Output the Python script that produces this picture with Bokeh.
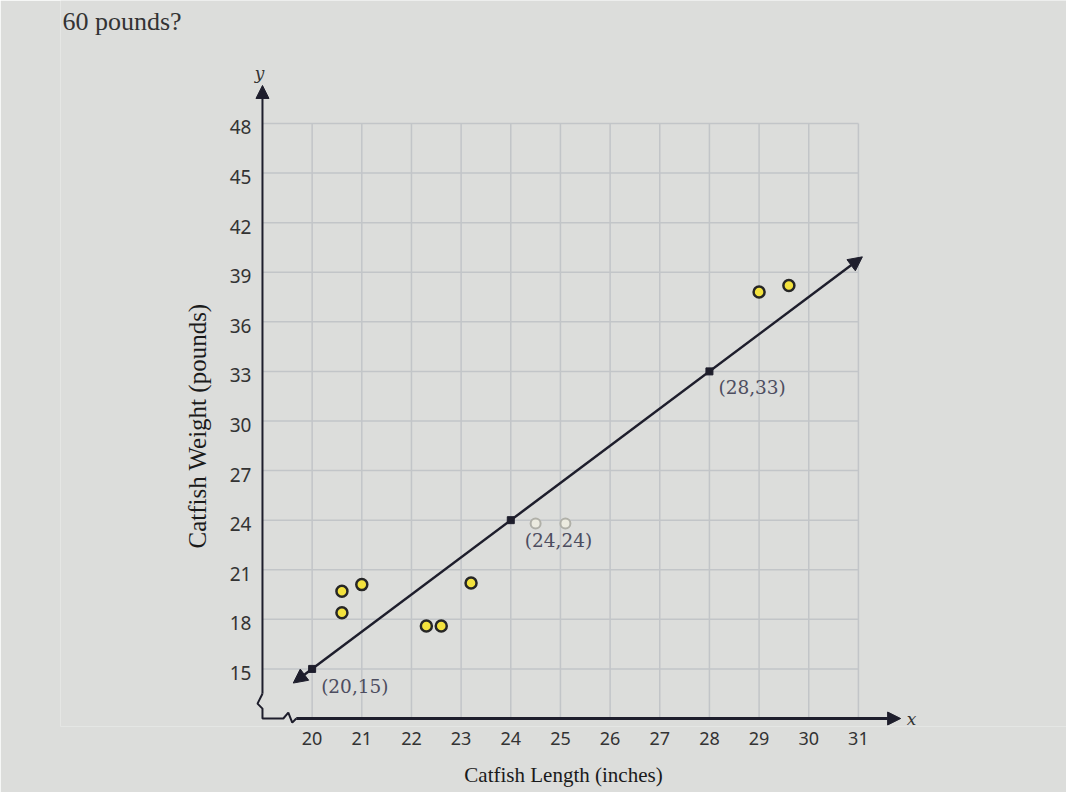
import math
from bokeh.plotting import figure
from bokeh.models import Arrow, NormalHead, FixedTicker, ColumnDataSource, Range1d
from bokeh.core.properties import value
from bokeh.embed import file_html
from bokeh.resources import INLINE

# ---- data ----
x_ticks = list(range(20, 32))
y_ticks = list(range(15, 49, 3))
y_tick_labels = [str(v) for v in y_ticks]
length = [20.6, 21.0, 20.6, 22.3, 22.6, 23.2, 29.0, 29.6]
weight = [19.7, 20.1, 18.4, 17.6, 17.6, 20.2, 37.8, 38.2]
hidden_length = [24.5, 25.1]
hidden_weight = [23.8, 23.8]
line_x = [20, 24, 28]
line_y = [15, 24, 33]
line_labels = ["(20,15)", "(24,24)", "(28,33)"]
line_ends = [19.62, 31.08]
heading = "60 pounds?"
x_title = "Catfish Length (inches)"
y_title = "Catfish Weight (pounds)"

# ---- layout / style ----
x_origin, y_origin = 19, 12
x_axis_end, y_axis_end = 31.85, 50.3
grid_top, grid_right = 48, 31
X_START, X_END = 14.933, 35.19
Y_START, Y_END = 11.516, 55.44

BG = "#dcdddb"
DARK = "#1e1e2c"

p = figure(width=1066, height=792, output_backend="svg", toolbar_location=None,
           x_range=Range1d(X_START, X_END), y_range=Range1d(Y_START, Y_END),
           min_border_left=60, min_border_right=0, min_border_top=0,
           min_border_bottom=66)
p.background_fill_color = BG
p.border_fill_color = BG
p.outline_line_color = None
p.xgrid.grid_line_color = None
p.ygrid.grid_line_color = None
p.yaxis.visible = False

# grid
p.segment(x0=x_ticks, y0=[y_origin] * len(x_ticks), x1=x_ticks, y1=[grid_top] * len(x_ticks),
          line_color="#c2c5c8", line_width=1.5)
p.segment(x0=[x_origin] * len(y_ticks), y0=y_ticks, x1=[grid_right] * len(y_ticks), y1=y_ticks,
          line_color="#c2c5c8", line_width=1.5)

# x axis (library axis)
ax = p.xaxis[0]
ax.axis_line_color = None
ax.major_tick_line_color = None
ax.minor_tick_line_color = None
ax.major_tick_out = 0
ax.major_tick_in = 0
ax.minor_tick_out = 0
ax.ticker = FixedTicker(ticks=x_ticks)
ax.major_label_text_font = "Noto Sans"
ax.major_label_text_font_size = "18px"
ax.major_label_text_color = "#333333"
ax.major_label_standoff = 5
ax.axis_label = x_title
ax.axis_label_text_font = "Liberation Serif"
ax.axis_label_text_font_size = "21px"
ax.axis_label_text_font_style = "normal"
ax.axis_label_text_color = "#1a1a1a"
ax.axis_label_standoff = 15

# y tick labels along the y axis
p.text(x=[x_origin] * len(y_ticks), y=y_ticks, text=y_tick_labels, x_offset=-11, y_offset=4,
       text_align="right", text_baseline="middle", text_font=value("Noto Sans"),
       text_font_size="19px", text_color="#333333")
# y title
p.text(x=[x_origin], y=[29.7], text=[y_title], x_offset=-65, angle=math.pi / 2,
       text_align="center", text_baseline="middle", text_font=value("Liberation Serif"),
       text_font_size="25px", text_color="#1a1a1a")

# axis arrows
p.add_layout(Arrow(end=NormalHead(size=13, fill_color=DARK, line_color=DARK),
                   x_start=x_origin + 0.68, y_start=y_origin, x_end=x_axis_end, y_end=y_origin,
                   line_color=DARK, line_width=3))
p.add_layout(Arrow(end=NormalHead(size=13, fill_color=DARK, line_color=DARK),
                   x_start=x_origin, y_start=y_origin + 1.5, x_end=x_origin, y_end=y_axis_end,
                   line_color=DARK, line_width=2))
# axis breaks
p.line([x_origin, x_origin - 0.1, x_origin, x_origin, x_origin + 0.42, x_origin + 0.52,
        x_origin + 0.6, x_origin + 0.68],
       [y_origin + 1.5, y_origin + 0.9, y_origin + 0.6, y_origin, y_origin, y_origin + 0.35,
        y_origin - 0.25, y_origin],
       line_color=DARK, line_width=2)

# line of fit with two arrowheads
slope = (line_y[2] - line_y[0]) / (line_x[2] - line_x[0])
y_end0 = line_y[0] + slope * (line_ends[0] - line_x[0])
y_end1 = line_y[0] + slope * (line_ends[1] - line_x[0])
p.add_layout(Arrow(start=NormalHead(size=14, fill_color=DARK, line_color=DARK),
                   end=NormalHead(size=14, fill_color=DARK, line_color=DARK),
                   x_start=line_ends[0], y_start=y_end0, x_end=line_ends[1], y_end=y_end1,
                   line_color=DARK, line_width=2.5))
p.scatter(line_x, line_y, marker="square", size=7, color=DARK)

# hidden (faint) points
p.scatter(hidden_length, hidden_weight, size=10, fill_color="#ecebe0",
          line_color="#b0b0a8", line_width=2)

# points
p.scatter(length, weight, size=11, fill_color="#f3e23e", line_color="#262626", line_width=2.5)

# point labels
lab_src = ColumnDataSource(dict(x=line_x, y=line_y, t=line_labels,
                                xo=[9, 14, 9], yo=[18, 20, 16]))
p.text(x="x", y="y", text="t", x_offset="xo", y_offset="yo", source=lab_src,
       text_font=value("DejaVu Serif"), text_font_size="18.5px", text_color="#4d4d60",
       text_baseline="middle", text_align="left")

# axis names
p.text(x=[x_origin], y=[y_axis_end], text=["y"], x_offset=-3, y_offset=-2, text_align="center",
       text_baseline="bottom", text_font=value("DejaVu Serif"), text_font_style="italic",
       text_font_size="17px", text_color="#333333")
p.text(x=[x_axis_end], y=[y_origin], text=["x"], x_offset=6, y_offset=0, text_align="left",
       text_baseline="middle", text_font=value("DejaVu Serif"), text_font_style="italic",
       text_font_size="17px", text_color="#333333")

# heading at top
p.text(x=[x_origin], y=[Y_END], text=[heading], x_offset=-200, y_offset=21,
       text_align="left", text_baseline="alphabetic", text_font=value("Liberation Serif"),
       text_font_size="26px", text_color="#333333")

open("out.html", "w").write(file_html(p, INLINE))
